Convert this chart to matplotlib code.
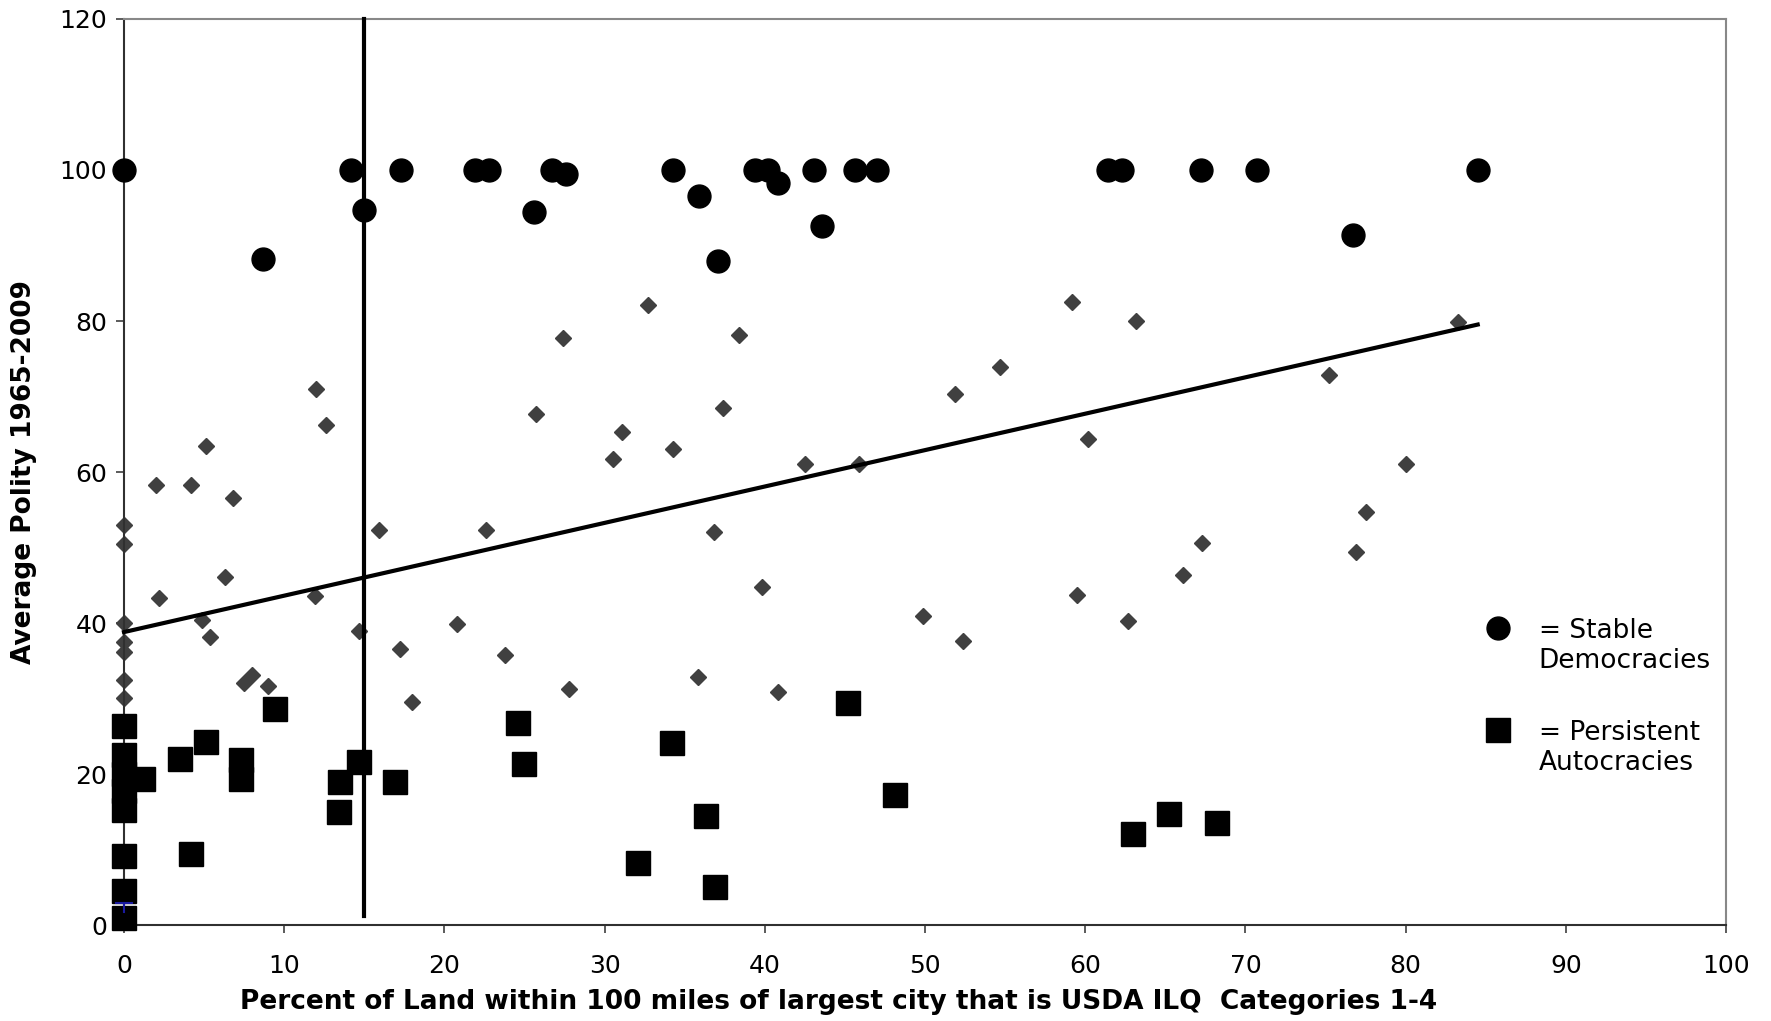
import matplotlib.pyplot as plt
import numpy as np

# all countries (grey diamonds)
all_x = [0, 0, 0, 0, 0, 0, 0,
         2.0, 2.2, 4.2, 5.1, 4.9, 5.4, 6.3, 6.8, 7.5, 8.0, 9.0,
         12.0, 11.9, 12.6, 14.7, 15.9, 17.2, 18.0, 20.8, 22.6, 23.8,
         25.7, 27.4, 27.8, 30.5, 31.1, 32.7, 34.3, 35.8, 36.8, 37.4,
         38.4, 39.8, 40.8, 42.5, 45.9, 49.9, 51.9, 52.4, 54.7, 59.2,
         59.5, 60.2, 62.7, 63.2, 66.1, 67.3, 75.2, 76.9, 77.5, 80.0, 83.3]
all_y = [53.0, 50.5, 40.0, 37.5, 36.1, 32.5, 30.1,
         58.3, 43.3, 58.3, 63.5, 40.4, 38.1, 46.1, 56.5, 32.1, 33.1, 31.6,
         71.0, 43.6, 66.2, 39.0, 52.3, 36.6, 29.5, 39.9, 52.3, 35.8,
         67.7, 77.8, 31.3, 61.7, 65.3, 82.1, 63.1, 32.8, 52.1, 68.5,
         78.2, 44.8, 30.9, 61.1, 61.0, 40.9, 70.3, 37.6, 73.9, 82.5,
         43.7, 64.4, 40.3, 80.0, 46.3, 50.6, 72.8, 49.4, 54.7, 61.1, 79.9]

# stable democracies (circles)
dem_x = [0, 8.7, 14.2, 15.0, 17.3, 21.9, 22.8, 25.6, 26.7, 27.6, 34.3, 35.9,
         37.1, 39.4, 40.2, 40.8, 43.1, 43.6, 45.6, 47.0, 61.4, 62.3, 67.2,
         70.7, 76.7, 84.5]
dem_y = [100, 88.2, 100, 94.7, 100, 100, 100, 94.4, 100, 99.5, 100, 96.5,
         87.9, 100, 100, 98.3, 100, 92.6, 100, 100, 100, 100, 100,
         100, 91.4, 100]

# persistent autocracies (squares)
aut_x = [0, 0, 0, 0, 0, 0, 0, 0,
         1.2, 3.5, 4.2, 5.1, 7.3, 7.3, 9.4, 13.4, 13.5, 14.7, 16.9,
         24.6, 25.0, 32.1, 34.2, 36.3, 36.9, 45.2, 48.1, 63.0, 65.2, 68.2]
aut_y = [26.4, 22.5, 20.0, 17.7, 15.3, 9.1, 4.5, 0.9,
         19.3, 22.0, 9.4, 24.3, 21.9, 19.3, 28.6, 15.0, 19.0, 21.6, 18.9,
         26.8, 21.3, 8.2, 24.1, 14.5, 5.1, 29.4, 17.2, 12.0, 14.7, 13.5]

# linear trend (intercept, slope) and its x range
trend = (38.8, 0.482)
trend_x = [0, 84.5]
cutoff_x = 15
cutoff_y = [1.2, 120]

fig = plt.figure(figsize=(17.71, 10.21), dpi=100)
ax = fig.add_axes([0.070, 0.094, 0.9046, 0.8874])

ax.plot(all_x, all_y, 'D', color='#404040', markersize=8.5, zorder=2)
tx = np.array(trend_x)
ax.plot(tx, trend[0] + trend[1] * tx, color='black', linewidth=3, zorder=3)
ax.plot([cutoff_x, cutoff_x], cutoff_y, color='black', linewidth=3, zorder=3)
ax.plot(aut_x, aut_y, 's', color='black', markersize=17, zorder=4)
ax.plot(dem_x, dem_y, 'o', color='black', markersize=16.5, zorder=4)
# small blue error mark near the origin
ax.plot([0, 0], [1.7, 2.9], color='#1a1aa0', linewidth=1.5, zorder=5)
ax.plot([-0.5, 0.5], [2.9, 2.9], color='#1a1aa0', linewidth=1.5, zorder=5)

ax.set_xlim(0, 100)
ax.set_ylim(0, 120)
ax.set_xticks(range(0, 101, 10))
ax.set_yticks(range(0, 121, 20))
ax.tick_params(direction='out', length=6, width=1.2, labelsize=18,
               color='#404040', pad=6)
ax.tick_params(axis='x', pad=15)

for s in ['top', 'right']:
    ax.spines[s].set_color('#888888')
    ax.spines[s].set_linewidth(1.5)
for s in ['left', 'bottom']:
    ax.spines[s].set_color('#303030')
    ax.spines[s].set_linewidth(1.5)
for ln in ax.lines:
    ln.set_clip_on(False)

ax.set_xlabel('Percent of Land within 100 miles of largest city that is USDA ILQ  Categories 1-4',
              fontsize=19, fontweight='bold')
ax.xaxis.set_label_coords(0.446, -0.071)
ax.set_ylabel('Average Polity 1965-2009', fontsize=19, fontweight='bold')
ax.yaxis.set_label_coords(-0.054, 0.5)

# hand-made legend
ax.plot([85.75], [39.4], 'o', color='black', markersize=16.5, clip_on=False)
ax.plot([85.75], [25.8], 's', color='black', markersize=17, clip_on=False)
ax.text(88.3, 37.0, '= Stable\nDemocracies', fontsize=19, va='center', linespacing=1.2)
ax.text(88.3, 23.4, '= Persistent\nAutocracies', fontsize=19, va='center', linespacing=1.2)

fig.savefig('out.png', dpi=100)
